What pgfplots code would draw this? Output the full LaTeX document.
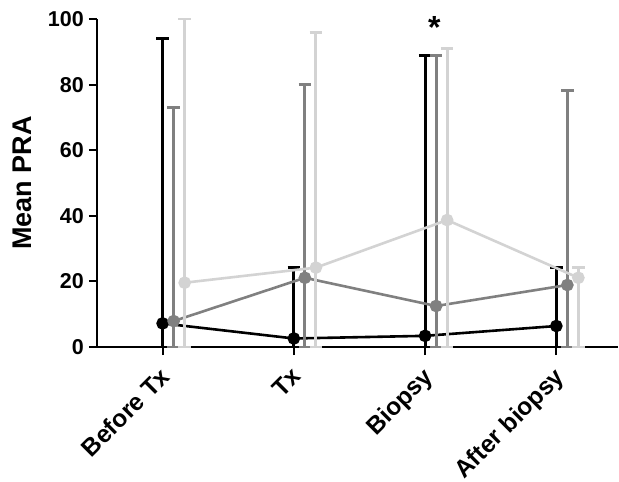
\documentclass[border=0pt]{standalone}
\usepackage{fontspec}
\setmainfont{Liberation Sans}
\usepackage{pgfplots}
\pgfplotsset{compat=1.18}
\definecolor{dgray}{RGB}{128,128,128}
\definecolor{lgray}{RGB}{211,211,211}
\begin{document}
\begin{tikzpicture}
\begin{axis}[
  scale only axis,
  width=521pt, height=328pt,
  xmin=-0.5, xmax=3.47,
  ymin=0, ymax=100,
  axis lines*=left,
  axis line style={line width=2pt},
  ytick={0,20,...,100},
  xtick={0,1,2,3},
  xticklabels={Before Tx,Tx,Biopsy,After biopsy},
  tick align=outside,
  major tick length=8pt,
  tick style={line width=2pt, black},
  x tick label style={rotate=45, anchor=north east, font=\fontsize{24.5}{27}\selectfont\bfseries, inner sep=0pt, yshift=-5pt, xshift=-10pt},
  y tick label style={font=\fontsize{21.5}{24}\selectfont\bfseries, inner sep=0pt, xshift=-5pt},
  /pgf/number format/assume math mode=true,
  ylabel={Mean PRA},
  every axis y label/.style={at={(rel axis cs:0,0.5)}, rotate=90, anchor=center, yshift=75pt, font=\fontsize{27}{30}\selectfont\bfseries},
  clip mode=individual,
  error bars/y dir=both,
  error bars/y explicit,
]
\addplot[black, line width=2.6pt, mark=*, mark size=5pt, mark options={solid},
  error bars/error bar style={black, line width=3pt},
  error bars/error mark options={black, line width=3pt, mark size=6.3pt, rotate=90}]
  table[x=x, y=y, y error plus=e, y error minus=y] {
x y e
0 7.2 86.8
1 2.6 21.6
2 3.4 85.6
3 6.4 17.8
};
\addplot[dgray, line width=2.6pt, mark=*, mark size=5pt,
  error bars/error bar style={dgray, line width=3pt},
  error bars/error mark options={dgray, line width=3pt, mark size=6.3pt, rotate=90}]
  table[x=x, y=y, y error plus=e, y error minus=y] {
x y e
0.084 7.9 65.1
1.084 21.1 59.0
2.084 12.5 76.5
3.084 18.9 59.3
};
\addplot[lgray, line width=2.6pt, mark=*, mark size=5pt,
  error bars/error bar style={lgray, line width=3pt},
  error bars/error mark options={lgray, line width=3pt, mark size=6.3pt, rotate=90}]
  table[x=x, y=y, y error plus=e, y error minus=y] {
x y e
0.168 19.6 80.4
1.168 24.2 71.8
2.168 38.7 52.2
3.168 21.1 3.1
};
\node[font=\fontsize{32}{32}\selectfont\bfseries, anchor=center] at (axis cs:2.07,97.5) {*};
\end{axis}
\pgfresetboundingbox
\path ([xshift=-97pt,yshift=-135pt]current axis.south west) rectangle ([xshift=1pt,yshift=19pt]current axis.north east);
\end{tikzpicture}
\end{document}
